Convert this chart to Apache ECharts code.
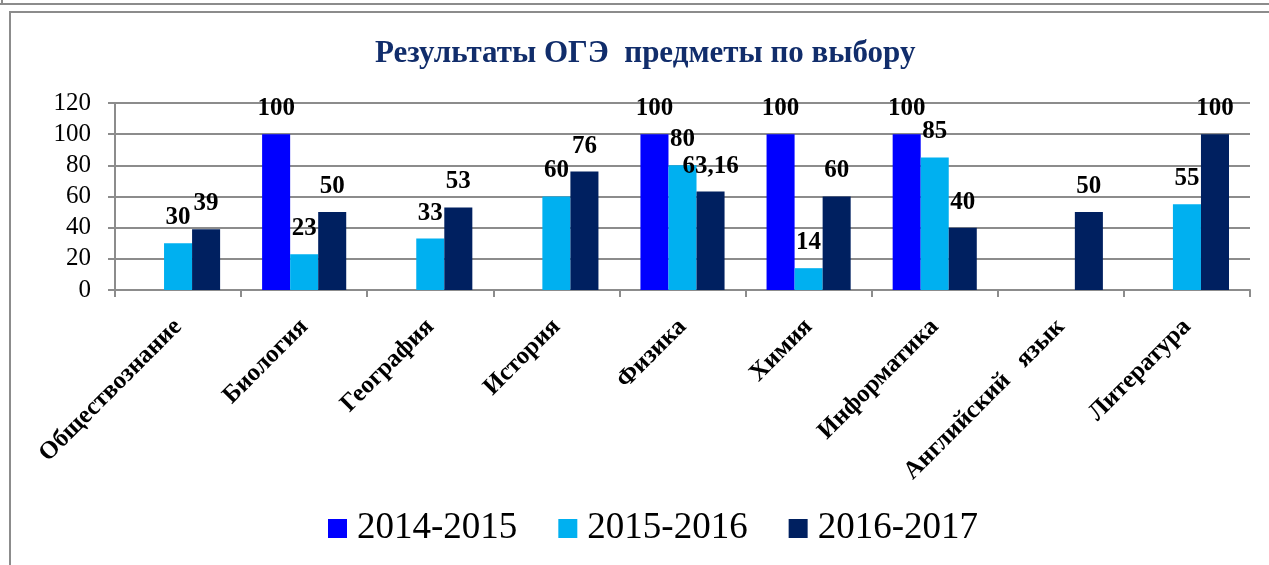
<!DOCTYPE html>
<html>
<head>
<meta charset="utf-8">
<script src="https://cdn.jsdelivr.net/npm/echarts@6/dist/echarts.min.js"></script>
<style>
  html, body { margin: 0; padding: 0; background: #fff; }
  #chart { width: 1269px; height: 565px; }
</style>
</head>
<body>
<div id="chart"></div>
<script>
// данные диаграммы
const subjects = ['Обществознание', 'Биология', 'География', 'История', 'Физика', 'Химия', 'Информатика', 'Английский   язык', 'Литература'];
const years = ['2014-2015', '2015-2016', '2016-2017'];
const y2015 = [null, 100, null, null, 100, 100, 100, null, null];
const y2016 = [30, 23, 33, 60, 80, 14, 85, null, 55];
const y2017 = [39, 50, 53, 76, 63.16, 60, 40, 50, 100];
const yTicks = [0, 20, 40, 60, 80, 100, 120];

const colors = ['#0000FF', '#00B0F0', '#002060'];
const serif = 'Liberation Serif';
const gridGrey = '#8c8c8c';

const chart = echarts.init(document.getElementById('chart'));

const makeSeries = (name, data, color) => ({
    name,
    type: 'bar',
    data,
    barGap: 0,
    barCategoryGap: '33.3%',
    itemStyle: {color},
    label: {
        show: true,
        position: 'top',
        distance: 13,
        fontFamily: serif,
        fontWeight: 'bold',
        fontSize: 25,
        color: '#000',
        formatter: (p) => String(p.value).replace('.', ',')
    }
});

chart.setOption({
    animation: false,
    title: {
        text: 'Результаты ОГЭ  предметы по выбору',
        left: 370,
        top: 33,
        textStyle: {fontFamily: serif, fontWeight: 'bold', fontSize: 31, color: '#112d6b'}
    },
    legend: {
        top: 510,
        left: 328,
        padding: 0,
        icon: 'rect',
        itemWidth: 19,
        itemHeight: 19,
        itemGap: 41,
        textStyle: {fontFamily: serif, fontSize: 37, lineHeight: 37, color: '#000', padding: [0, 0, 0, 5]},
        data: years
    },
    grid: {left: 115, right: 19, top: 103, bottom: 275},
    xAxis: {
        type: 'category',
        data: subjects,
        axisLine: {lineStyle: {color: gridGrey, width: 2}},
        axisTick: {show: true, interval: 0, length: 7, lineStyle: {color: gridGrey, width: 2}},
        axisLabel: {
            interval: 0,
            rotate: 45,
            margin: 33,
            fontFamily: serif,
            fontWeight: 'bold',
            fontSize: 25,
            color: '#000'
        }
    },
    yAxis: {
        type: 'value',
        min: yTicks[0],
        max: yTicks[yTicks.length - 1],
        interval: 20,
        axisLine: {show: true, lineStyle: {color: gridGrey, width: 2}},
        axisTick: {show: true, length: 7, lineStyle: {color: gridGrey, width: 2}},
        splitLine: {lineStyle: {color: gridGrey, width: 2}},
        axisLabel: {margin: 24, fontFamily: serif, fontSize: 25, color: '#000'}
    },
    graphic: [
        {type: 'line', shape: {x1: 0, y1: 4, x2: 1269, y2: 4}, style: {stroke: '#8c8c8c', lineWidth: 2}},
        {type: 'line', shape: {x1: 2, y1: 0, x2: 2, y2: 4}, style: {stroke: '#8c8c8c', lineWidth: 2}},
        {type: 'rect', shape: {x: 10, y: 12, width: 1300, height: 600}, style: {fill: 'none', stroke: '#8c8c8c', lineWidth: 2}}
    ],
    series: [
        makeSeries(years[0], y2015, colors[0]),
        makeSeries(years[1], y2016, colors[1]),
        makeSeries(years[2], y2017, colors[2])
    ]
});
</script>
</body>
</html>
